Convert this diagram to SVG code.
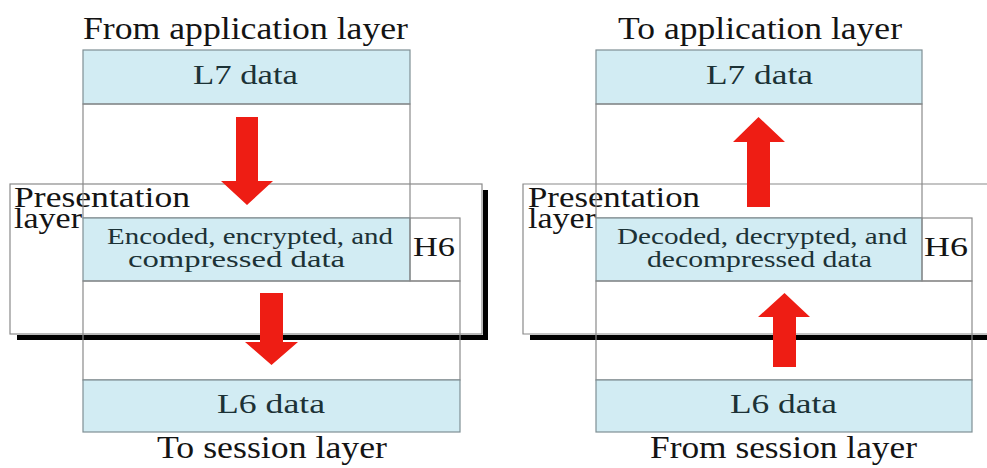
<svg xmlns="http://www.w3.org/2000/svg" width="987" height="468" viewBox="0 0 987 468">
<style>
text{font-family:"Liberation Serif","Times New Roman",serif;fill:#141414}
.hdr{font-size:31px}
.lbl{font-size:28px}
.pl{font-size:29px}
.sm{font-size:23px;fill:#1c3236}
.in{fill:#1c3236}
.blue{fill:#d2ecf3;stroke:#7f8f94;stroke-width:1.2}
.wht{fill:none;stroke:#8a8a8a;stroke-width:1.2}
.pbox{fill:none;stroke:#8a8a8a;stroke-width:1.2}
.thick{fill:#000}
.arrow{fill:#ee1d14}
</style>
<rect width="987" height="468" fill="#fff"/>

<!-- LEFT: sender side -->
<g id="left-presentation-layer">
  <rect class="pbox" x="10" y="184" width="472" height="150"/>
  <rect class="thick" x="483" y="190" width="5" height="150"/>
  <rect class="thick" x="17" y="335" width="471" height="5"/>
  <text class="pl" x="14" y="207" textLength="176" lengthAdjust="spacingAndGlyphs">Presentation</text>
  <text class="pl" x="14" y="228" textLength="68" lengthAdjust="spacingAndGlyphs">layer</text>
</g>
<g id="left-from-app">
  <text class="hdr" x="83" y="39" textLength="325" lengthAdjust="spacingAndGlyphs">From application layer</text>
</g>
<g id="left-l7">
  <rect class="blue" x="83" y="50" width="327" height="54"/>
  <text class="lbl in" x="193" y="84" textLength="105" lengthAdjust="spacingAndGlyphs">L7 data</text>
</g>
<g id="left-upper-gap">
  <rect class="wht" x="83" y="104" width="327" height="114"/>
</g>
<g id="left-encoded">
  <rect class="blue" x="83" y="218" width="327" height="63"/>
  <text class="sm" x="107" y="244" textLength="286" lengthAdjust="spacingAndGlyphs">Encoded, encrypted, and</text>
  <text class="sm" x="128" y="267" textLength="217" lengthAdjust="spacingAndGlyphs">compressed data</text>
</g>
<g id="left-h6">
  <rect class="wht" x="410" y="218" width="50" height="63"/>
  <text class="lbl" x="413" y="256" textLength="42" lengthAdjust="spacingAndGlyphs">H6</text>
</g>
<g id="left-lower-gap">
  <rect class="wht" x="83" y="281" width="377" height="99"/>
</g>
<g id="left-l6">
  <rect class="blue" x="83" y="380" width="377" height="52"/>
  <text class="lbl in" x="217" y="413" textLength="108" lengthAdjust="spacingAndGlyphs">L6 data</text>
</g>
<g id="left-to-session">
  <text class="hdr" x="157" y="458" textLength="230" lengthAdjust="spacingAndGlyphs">To session layer</text>
</g>

<!-- RIGHT: receiver side -->
<g id="right-presentation-layer">
  <path class="pbox" d="M990 184 H523 V334 H990"/>
  <rect class="thick" x="530" y="335" width="457" height="5"/>
  <text class="pl" x="528" y="207" textLength="172" lengthAdjust="spacingAndGlyphs">Presentation</text>
  <text class="pl" x="528" y="228" textLength="68" lengthAdjust="spacingAndGlyphs">layer</text>
</g>
<g id="right-to-app">
  <text class="hdr" x="618" y="39" textLength="284" lengthAdjust="spacingAndGlyphs">To application layer</text>
</g>
<g id="right-l7">
  <rect class="blue" x="596" y="50" width="326" height="54"/>
  <text class="lbl in" x="706" y="84" textLength="107" lengthAdjust="spacingAndGlyphs">L7 data</text>
</g>
<g id="right-upper-gap">
  <rect class="wht" x="596" y="104" width="326" height="114"/>
</g>
<g id="right-decoded">
  <rect class="blue" x="596" y="218" width="326" height="63"/>
  <text class="sm" x="617" y="244" textLength="290" lengthAdjust="spacingAndGlyphs">Decoded, decrypted, and</text>
  <text class="sm" x="647" y="267" textLength="225" lengthAdjust="spacingAndGlyphs">decompressed data</text>
</g>
<g id="right-h6">
  <rect class="wht" x="922" y="218" width="50" height="63"/>
  <text class="lbl" x="924" y="256" textLength="44" lengthAdjust="spacingAndGlyphs">H6</text>
</g>
<g id="right-lower-gap">
  <rect class="wht" x="596" y="281" width="376" height="99"/>
</g>
<g id="right-l6">
  <rect class="blue" x="596" y="380" width="376" height="52"/>
  <text class="lbl in" x="730" y="413" textLength="107" lengthAdjust="spacingAndGlyphs">L6 data</text>
</g>
<g id="right-from-session">
  <text class="hdr" x="650" y="458" textLength="267" lengthAdjust="spacingAndGlyphs">From session layer</text>
</g>

<!-- connectors: block arrows -->
<g id="connectors">
  <polygon class="arrow" points="236,117 258,117 258,181 273,181 247,205 221,181 236,181"/>
  <polygon class="arrow" points="260,293 283,293 283,342 298,342 271.5,365 245,342 260,342"/>
  <polygon class="arrow" points="747,207 770,207 770,142 785,142 758.5,117 733,142 747,142"/>
  <polygon class="arrow" points="773,367 796,367 796,317 810,317 784.5,293 758,317 773,317"/>
</g>
</svg>
